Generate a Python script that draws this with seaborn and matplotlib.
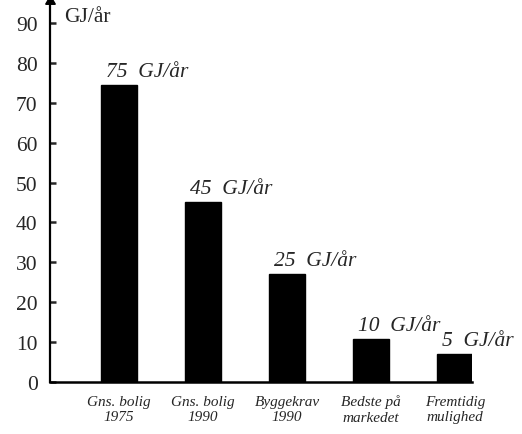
import numpy as np
import pandas as pd
import matplotlib
matplotlib.use("Agg")
import matplotlib.pyplot as plt
import seaborn as sns

# Data
categories = ["Gns. bolig\n1975", "Gns. bolig\n1990", "Byggekrav\n1990", "Bedste på\nmarkedet", "Fremtidig\nmulighed"]
values = [74.5, 45, 27, 10.7, 7]
bar_labels = ["75  GJ/år", "45  GJ/år", "25  GJ/år", "10  GJ/år", "5  GJ/år"]
yticks = [0, 10, 20, 30, 40, 50, 60, 70, 80, 90]

sns.set_style("white")
plt.rcParams.update({
    'font.family': ['Liberation Serif', 'DejaVu Serif'],
})

df = pd.DataFrame({'kategori': categories, 'forbrug': values})

fig = plt.figure(figsize=(5.22, 4.35), dpi=100)
ax = fig.add_axes([0.096, 0.1195, 0.808, 0.8805])

sns.barplot(data=df, x='kategori', y='forbrug', color='black', width=0.43,
            saturation=1, ax=ax, edgecolor='black')

for i, (v, lab) in enumerate(zip(values, bar_labels)):
    ax.text(i - 0.15, v + 1.0, lab, ha='left', va='bottom', fontsize=15.5,
            fontstyle='italic')

ax.set_xlim(-0.82, 4.2)
ax.set_ylim(0, 96)
ax.set_yticks(yticks)
ax.set_xlabel('')
ax.set_ylabel('')

ax.spines['top'].set_visible(False)
ax.spines['right'].set_visible(False)
ax.spines['left'].set_linewidth(1.6)
ax.spines['bottom'].set_linewidth(1.8)
ax.spines['left'].set_color('black')
ax.spines['bottom'].set_color('black')

ax.tick_params(axis='y', direction='in', length=4, width=1.8, labelsize=15.5, pad=9, left=True)
ax.tick_params(axis='x', length=0, labelsize=11, pad=9)
for t in ax.get_xticklabels():
    t.set_fontstyle('italic')
    t.set_linespacing(1.25)

# arrow head on the y axis
ax.plot(0, 0.995, marker=(3, 0, 0), color='black', markersize=8, transform=ax.transAxes, clip_on=False)

fig.text(64 / 522, 1 - 18 / 435, 'GJ/år', fontsize=15.5, va='center', ha='left')

fig.savefig("out.png", dpi=100)
